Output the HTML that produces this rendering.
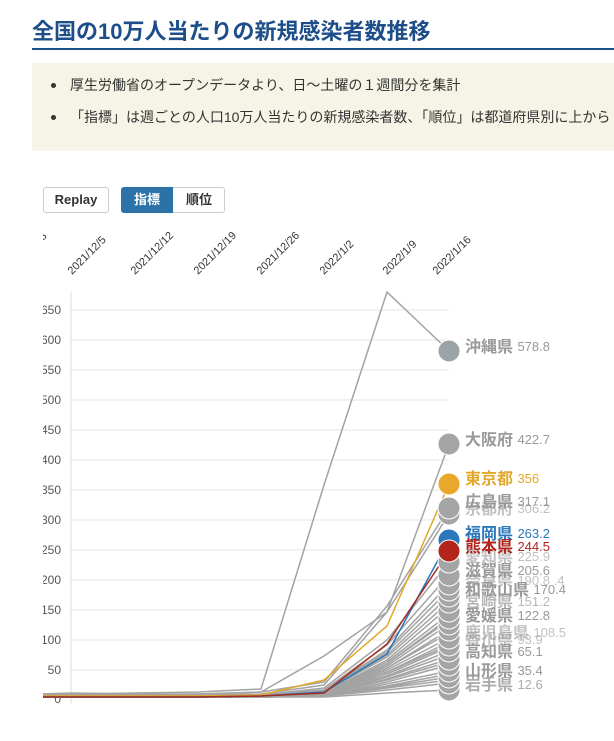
<!DOCTYPE html>
<html><head><meta charset="utf-8"><style>
body{margin:0;width:614px;height:741px;overflow:hidden;background:#fff;font-family:"Liberation Sans","Noto Sans CJK JP",sans-serif;position:relative}
.t{position:absolute;left:32px;top:14px;font-size:22px;font-weight:bold;color:#1d4e89;white-space:nowrap}
.ul{position:absolute;left:32px;top:48px;width:600px;height:2px;background:#1d4e89}
.box{position:absolute;left:32px;top:63px;width:600px;height:88px;background:#f6f4e6}
.b{position:absolute;left:70px;font-size:14px;color:#333;white-space:nowrap}
.b:before{content:"";position:absolute;left:-19px;top:8px;width:5px;height:5px;border-radius:50%;background:#333}
.btn{position:absolute;top:187px;height:26px;box-sizing:border-box;border:1px solid #ccc;font-size:13px;font-weight:bold;line-height:24px;text-align:center;color:#333;border-radius:3px}
</style></head><body>
<div class="t">全国の10万人当たりの新規感染者数推移</div>
<div class="ul"></div>
<div class="box"></div>
<div class="b" style="top:75px">厚生労働省のオープンデータより、日～土曜の１週間分を集計</div>
<div class="b" style="top:107px">「指標」は週ごとの人口10万人当たりの新規感染者数、「順位」は都道府県別に上から</div>
<div class="btn" style="left:43px;width:66px">Replay</div>
<div class="btn" style="left:121px;width:104px"></div>
<div class="btn" style="left:121px;width:52px;background:#2a72a8;color:#fff;border-color:#2a72a8;border-radius:3px 0 0 3px">指標</div>
<div style="position:absolute;left:173px;top:187px;width:52px;height:26px;line-height:26px;text-align:center;font-size:13px;font-weight:bold;color:#333">順位</div>
<svg width="614" height="741" style="position:absolute;left:0;top:0" font-family="Liberation Sans, Noto Sans CJK JP, sans-serif">
<defs><clipPath id="c"><rect x="43" y="0" width="571" height="741"/></clipPath></defs>
<g clip-path="url(#c)">
<g font-size="11" fill="#333">
<text transform="translate(9,275) rotate(-45)">2021/11/28</text>
<text transform="translate(72,275) rotate(-45)">2021/12/5</text>
<text transform="translate(135,275) rotate(-45)">2021/12/12</text>
<text transform="translate(198,275) rotate(-45)">2021/12/19</text>
<text transform="translate(261,275) rotate(-45)">2021/12/26</text>
<text transform="translate(324,275) rotate(-45)">2022/1/2</text>
<text transform="translate(387,275) rotate(-45)">2022/1/9</text>
<text transform="translate(437,275) rotate(-45)">2022/1/16</text>
</g>
<g stroke="#e6e6e6" stroke-width="1">
<line x1="71" x2="449" y1="310" y2="310"/><line x1="71" x2="449" y1="340" y2="340"/><line x1="71" x2="449" y1="370" y2="370"/><line x1="71" x2="449" y1="400" y2="400"/><line x1="71" x2="449" y1="430" y2="430"/><line x1="71" x2="449" y1="460" y2="460"/><line x1="71" x2="449" y1="490" y2="490"/><line x1="71" x2="449" y1="520" y2="520"/><line x1="71" x2="449" y1="550" y2="550"/><line x1="71" x2="449" y1="580" y2="580"/><line x1="71" x2="449" y1="610" y2="610"/><line x1="71" x2="449" y1="640" y2="640"/><line x1="71" x2="449" y1="670" y2="670"/>
<line x1="71" x2="71" y1="292" y2="704" stroke="#ddd"/>
</g>
<g font-size="12" fill="#555" text-anchor="end">
<text x="61" y="314">650</text><text x="61" y="344">600</text><text x="61" y="374">550</text><text x="61" y="404">500</text><text x="61" y="434">450</text><text x="61" y="464">400</text><text x="61" y="494">350</text><text x="61" y="524">300</text><text x="61" y="554">250</text><text x="61" y="584">200</text><text x="61" y="614">150</text><text x="61" y="644">100</text><text x="61" y="674">50</text><text x="61" y="703">0</text>
</g>
<g fill="none" stroke="#a3a3a3" stroke-width="1.5">
<polyline points="9,695 72,694 135,695 198,694 261,692 324,682 387,606 449,508"/>
<polyline points="9,696 72,695 135,696 198,695 261,694 324,685 387,612 449,514"/>
<polyline points="9,696 72,696 135,696 198,696 261,695 324,688 387,640 449,562"/>
<polyline points="9,697 72,696 135,697 198,696 261,695 324,690 387,645 449,575"/>
<polyline points="9,697 72,697 135,697 198,697 261,696 324,690 387,650 449,584"/>
<polyline points="9,697 72,697 135,697 198,697 261,696 324,691 387,652 449,590"/>
<polyline points="9,697 72,697 135,697 198,697 261,696 324,692 387,655 449,596"/>
<polyline points="9,697 72,697 135,697 198,697 261,696 324,692 387,657 449,602"/>
<polyline points="9,697 72,697 135,697 198,697 261,696 324,693 387,660 449,607"/>
<polyline points="9,697 72,697 135,697 198,697 261,696 324,693 387,662 449,614"/>
<polyline points="9,697 72,697 135,697 198,697 261,697 324,693 387,664 449,620"/>
<polyline points="9,697 72,697 135,697 198,697 261,697 324,694 387,666 449,624"/>
<polyline points="9,697 72,697 135,697 198,697 261,697 324,694 387,668 449,633"/>
<polyline points="9,697 72,697 135,697 198,697 261,697 324,694 387,670 449,638"/>
<polyline points="9,697 72,697 135,697 198,697 261,697 324,694 387,672 449,642"/>
<polyline points="9,697 72,697 135,697 198,697 261,697 324,695 387,674 449,647"/>
<polyline points="9,697 72,697 135,697 198,697 261,697 324,695 387,676 449,651"/>
<polyline points="9,697 72,697 135,697 198,697 261,697 324,695 387,677 449,655"/>
<polyline points="9,697 72,697 135,697 198,697 261,697 324,695 387,679 449,659"/>
<polyline points="9,697 72,697 135,697 198,697 261,697 324,695 387,680 449,662"/>
<polyline points="9,697 72,697 135,697 198,697 261,697 324,696 387,682 449,665"/>
<polyline points="9,697 72,697 135,697 198,697 261,697 324,696 387,684 449,671"/>
<polyline points="9,697 72,697 135,697 198,697 261,697 324,696 387,686 449,674"/>
<polyline points="9,697 72,697 135,697 198,697 261,697 324,696 387,687 449,677"/>
<polyline points="9,697 72,697 135,697 198,697 261,697 324,696 387,688 449,680"/>
<polyline points="9,697 72,697 135,697 198,697 261,697 324,696 387,690 449,683"/>
<polyline points="9,697 72,697 135,697 198,697 261,697 324,697 387,693 449,690"/>
<polyline points="9,697 72,697 135,697 198,697 261,697 324,696 387,668 449,630"/>
<polyline points="9,697 72,697 135,697 198,697 261,697 324,696 387,664 449,618"/>
<polyline points="9,697 72,697 135,697 198,697 261,697 324,695 387,672 449,645"/>
<polyline points="9,695 72,693 135,694 198,694 261,692 324,656 387,612 449,444"/>
<polyline points="9,695 72,694 135,693 198,692 261,689 324,485 387,292 449,351"/>
</g>
<polyline fill="none" stroke="#e3a82b" stroke-width="1.5" points="9,696 72,696 135,696 198,696 261,695 324,680 387,626 449,484"/>
<polyline fill="none" stroke="#2a78bb" stroke-width="1.5" points="9,697 72,697 135,697 198,697 261,696 324,692 387,654 449,540"/>
<polyline fill="none" stroke="#a52a1e" stroke-width="1.5" points="9,697 72,697 135,697 198,697 261,696 324,693 387,644 449,551"/>
<g fill="#a5a5a5" stroke="#fff" stroke-width="1">
<circle cx="449" cy="690" r="11"/><circle cx="449" cy="683" r="11"/><circle cx="449" cy="677" r="11"/><circle cx="449" cy="671" r="11"/><circle cx="449" cy="665" r="11"/><circle cx="449" cy="659" r="11"/><circle cx="449" cy="651" r="11"/><circle cx="449" cy="645" r="11"/><circle cx="449" cy="638" r="11"/><circle cx="449" cy="630" r="11"/><circle cx="449" cy="624" r="11"/><circle cx="449" cy="618" r="11"/><circle cx="449" cy="611" r="11"/><circle cx="449" cy="602" r="11"/><circle cx="449" cy="596" r="11"/><circle cx="449" cy="590" r="11"/><circle cx="449" cy="584" r="11"/><circle cx="449" cy="575" r="11"/><circle cx="449" cy="562" r="11"/><circle cx="449" cy="514" r="11"/><circle cx="449" cy="508" r="11"/><circle cx="449" cy="444" r="11"/>
<circle cx="449" cy="351" r="11" fill="#9aa3a6"/>
<circle cx="449" cy="484" r="11" fill="#e8a82b"/>
<circle cx="449" cy="540" r="11" fill="#2a78bb"/>
<circle cx="449" cy="551" r="11" fill="#b3241a"/>
</g>
<g font-size="16" font-weight="bold" fill="#999" dominant-baseline="middle">
<text x="465" y="348">沖縄県 <tspan font-size="13" font-weight="normal">578.8</tspan></text>
<text x="465" y="441">大阪府 <tspan font-size="13" font-weight="normal">422.7</tspan></text>
<text x="465" y="480" fill="#e3a82b">東京都 <tspan font-size="13" font-weight="normal">356</tspan></text>
<text x="465" y="510" opacity="0.6">京都府 <tspan font-size="13" font-weight="normal">306.2</tspan></text>
<text x="465" y="503">広島県 <tspan font-size="13" font-weight="normal">317.1</tspan></text>
<text x="465" y="535" fill="#2a78bb">福岡県 <tspan font-size="13" font-weight="normal">263.2</tspan></text>
<text x="465" y="558" opacity="0.6">愛知県 <tspan font-size="13" font-weight="normal">225.9</tspan></text>
<text x="465" y="548" fill="#b3241a">熊本県 <tspan font-size="13" font-weight="normal">244.5</tspan></text>
<text x="465" y="582" opacity="0.6">奈良県 <tspan font-size="13" font-weight="normal">190.8 .4</tspan></text>
<text x="465" y="572">滋賀県 <tspan font-size="13" font-weight="normal">205.6</tspan></text>
<text x="465" y="603" opacity="0.7">宮崎県 <tspan font-size="13" font-weight="normal">151.2</tspan></text>
<text x="465" y="591">和歌山県 <tspan font-size="13" font-weight="normal">170.4</tspan></text>
<text x="465" y="634" opacity="0.6">鹿児島県 <tspan font-size="13" font-weight="normal">108.5</tspan></text>
<text x="465" y="641" opacity="0.6">香川県 <tspan font-size="13" font-weight="normal">93.9</tspan></text>
<text x="465" y="617">愛媛県 <tspan font-size="13" font-weight="normal">122.8</tspan></text>
<text x="465" y="653">高知県 <tspan font-size="13" font-weight="normal">65.1</tspan></text>
<text x="465" y="686" opacity="0.8">岩手県 <tspan font-size="13" font-weight="normal">12.6</tspan></text>
<text x="465" y="672">山形県 <tspan font-size="13" font-weight="normal">35.4</tspan></text>
</g>
</g>
</svg>
</body></html>
